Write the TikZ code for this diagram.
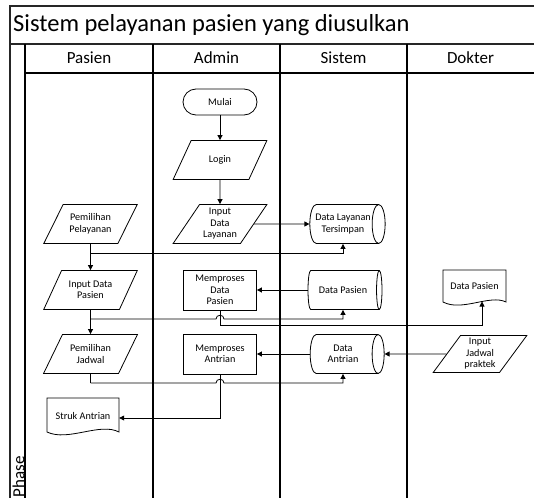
\documentclass[tikz,border=0pt]{standalone}
\usepackage{fontspec}
\setmainfont{Carlito}
\usetikzlibrary{shapes.geometric,arrows.meta}
\begin{document}
\begin{tikzpicture}[x=1pt,y=-1pt,
 every node/.style={font=\fontsize{10.2}{11.5}\selectfont, align=center, inner sep=1pt},
 frame/.style={draw=black!85, line width=1.3pt},
 lane/.style={draw=black, line width=1.1pt},
 term/.style={draw, line width=0.8pt, rounded corners=13pt, minimum width=74pt, minimum height=26pt},
 io/.style={draw, line width=0.8pt, trapezium, trapezium left angle=55, trapezium right angle=125, trapezium stretches=true, minimum width=94pt, minimum height=39pt},
 proc/.style={draw, line width=0.8pt, rectangle, minimum width=73pt, minimum height=40pt},
 store/.style={draw, line width=0.8pt, cylinder, shape border rotate=0, aspect=0.6, minimum width=39pt, minimum height=74pt},
 docbox/.style={rectangle, minimum width=63pt, minimum height=34pt},
 docline/.style={draw, line width=0.8pt},
 arr/.style={-{Triangle[length=5pt,width=5pt]}, line width=0.8pt},
 ln/.style={line width=0.8pt},
 head/.style={font=\fontsize{17}{20}\selectfont}
]
\useasboundingbox (0,0) rectangle (534,497);
% frame
\draw[frame] (10,498) -- (10,6) -- (535,6);
\draw[frame] (10,44) -- (535,44);
\draw[lane] (25,44) -- (25,498);
\draw[lane] (25,73) -- (535,73);
\draw[lane] (153,44) -- (153,498);
\draw[lane] (280,44) -- (280,498);
\draw[lane] (407,44) -- (407,498);
\node[font=\fontsize{24.5}{27}\selectfont, anchor=west, inner sep=0pt] (title) at (13,25) {Sistem pelayanan pasien yang diusulkan};
\node[head] (hp) at (89,58) {Pasien};
\node[head] (ha) at (216.5,58) {Admin};
\node[head] (hs) at (343.5,58) {Sistem};
\node[head] (hd) at (470.5,58) {Dokter};
\node[head, rotate=90, inner sep=0pt] (phase) at (18.5,477) {Phase};
% nodes
\node[term] (mulai) at (220,102) {Mulai};
\node[io] (login) at (220,160) {Login};
\node[io] (idl) at (220,224) {Input\\Data\\Layanan};
\node[io] (pp) at (90.5,224) {Pemilihan\\Pelayanan};
\node[store] (dlt) at (343,224) {Data Layanan\\Tersimpan};
\node[io] (idp) at (90.5,290) {Input Data\\Pasien};
\node[proc] (mdp) at (220,290) {Memproses\\Data\\Pasien};
\node[store] (dps) at (343,290) {Data Pasien};
\node[docbox] (dpd) at (474.5,286) {Data Pasien};
\draw[docline] (443,270) -- (506,270) -- (506,302) .. controls (490,294) and (462,312) .. (443,302) -- cycle;
\coordinate (dpdw) at (482,301.5);
\node[io] (pj) at (90.5,354) {Pemilihan\\Jadwal};
\node[proc] (ma) at (220,354) {Memproses\\Antrian};
\node[store] (da) at (343,354) {Data\\Antrian};
\node[io, minimum height=37pt] (ijp) at (480,354) {Input\\Jadwal\\praktek};
\node[docbox, minimum width=72pt, minimum height=40pt] (struk) at (83,418) {\raisebox{4pt}{Struk Antrian}};
\draw[docline] (47,398) -- (119,398) -- (119,432) .. controls (100,422) and (68,442) .. (47,432) -- cycle;
% connectors
\draw[arr] (mulai) -- (login);
\draw[arr] (login) -- (idl);
\draw[arr] (idl) -- (dlt);
\draw[arr] (pp.south) -- (idp.north);
\draw[arr] (pp.south |- 0,253) -| (dlt.south);
\draw[arr] (dps) -- (mdp);
\draw[arr] (idp.south) -- (pj.north);
\draw[arr] (idp.south |- 0,319) -- (216,319) .. controls (216,314) and (224,314) .. (224,319) -| (dps.south);
\draw[arr] (mdp.south) -- ++(0,15) -| (dpdw);
\draw[arr] (da) -- (ma);
\draw[arr] (ijp) -- (da);
\draw[ln] (pj.south) -- (pj.south |- 0,383);
\draw[arr] (pj.south |- 0,383) -- (216,383) .. controls (216,378) and (224,378) .. (224,383) -| (da.south);
\draw[arr] (ma.south) |- (struk.east);
\end{tikzpicture}
\end{document}
